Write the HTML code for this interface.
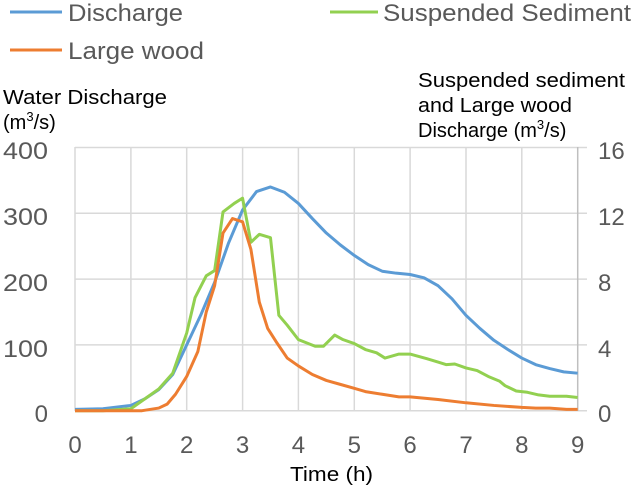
<!DOCTYPE html>
<html><head><meta charset="utf-8"><style>
body{margin:0;background:#fff;}
svg text{font-family:"Liberation Sans","Noto Sans CJK JP",sans-serif;fill:#595959;}
</style></head><body>
<svg width="634" height="485" viewBox="0 0 634 485" xmlns="http://www.w3.org/2000/svg">
<g stroke="#d9d9d9" stroke-width="1.5">
<line x1="75" y1="147.5" x2="587" y2="147.5"/><line x1="75" y1="213.3" x2="587" y2="213.3"/><line x1="75" y1="279.1" x2="587" y2="279.1"/><line x1="75" y1="344.9" x2="587" y2="344.9"/><line x1="75" y1="410.7" x2="587" y2="410.7"/>
<line x1="75" y1="147" x2="75" y2="411"/><line x1="130.9" y1="147" x2="130.9" y2="411"/><line x1="186.7" y1="147" x2="186.7" y2="411"/><line x1="242.6" y1="147" x2="242.6" y2="411"/><line x1="298.4" y1="147" x2="298.4" y2="411"/><line x1="354.3" y1="147" x2="354.3" y2="411"/><line x1="410.1" y1="147" x2="410.1" y2="411"/><line x1="466" y1="147" x2="466" y2="411"/><line x1="521.8" y1="147" x2="521.8" y2="411"/>
</g>
<line x1="577.7" y1="147" x2="577.7" y2="411" stroke="#bfbfbf" stroke-width="1.5"/>
<g transform="translate(75,410.7) scale(55.85,-0.658)" fill="none" stroke-width="3" stroke-linejoin="round">
<polyline vector-effect="non-scaling-stroke" stroke="#5b9bd5" points="0,2 0.5,3 1,8 1.25,18 1.5,32 1.75,55 2,100 2.25,145 2.5,195 2.75,255 3,305 3.25,333 3.5,340 3.75,332 4,315 4.25,292 4.5,270 4.75,252 5,236 5.25,222 5.5,212 5.75,209 6,207 6.25,202 6.5,190 6.75,170 7,145 7.25,125 7.5,107 7.75,93 8,80 8.25,70 8.5,64 8.75,59 9,57"/>
<polyline vector-effect="non-scaling-stroke" stroke="#92d050" points="0,0 0.5,0 1,3 1.25,18 1.5,33 1.75,57 2,118 2.15,172 2.35,205 2.5,213 2.65,302 2.85,315 3,323 3.15,256 3.3,268 3.5,263 3.65,145 3.8,130 4,108 4.3,98 4.45,98 4.65,115 4.8,108 5,102 5.2,93 5.4,88 5.55,80 5.8,86 6,86 6.3,79 6.5,74 6.65,70 6.8,71 7,65 7.2,61 7.4,52 7.6,45 7.7,38 7.9,30 8.1,28 8.3,24 8.5,22 8.8,22 9,20"/>
<polyline vector-effect="non-scaling-stroke" stroke="#ed7d31" points="0,0 1.2,0 1.5,4 1.65,10 1.8,25 2,52 2.2,90 2.35,150 2.5,190 2.65,270 2.82,292 3,287 3.15,245 3.3,165 3.45,125 3.6,105 3.8,80 4,68 4.25,55 4.5,46 4.75,40 5,34 5.2,29 5.5,25 5.8,21 6,21 6.5,17 7,12 7.5,8 8,5 8.25,4 8.5,4 8.8,2 9,2"/>
</g>
<g font-size="24">
<text x="3" y="159" textLength="45" lengthAdjust="spacingAndGlyphs">400</text><text x="3" y="225" textLength="45" lengthAdjust="spacingAndGlyphs">300</text><text x="3" y="291" textLength="45" lengthAdjust="spacingAndGlyphs">200</text><text x="3" y="357" textLength="45" lengthAdjust="spacingAndGlyphs">100</text><text x="48" y="422" text-anchor="end">0</text>
</g>
<g font-size="24" text-anchor="start">
<text x="598" y="159">16</text><text x="598" y="225">12</text><text x="598" y="291">8</text><text x="598" y="357">4</text><text x="598" y="422">0</text>
</g>
<g font-size="24" text-anchor="middle">
<text x="75" y="453">0</text><text x="130.9" y="453">1</text><text x="186.7" y="453">2</text><text x="242.6" y="453">3</text><text x="298.4" y="453">4</text><text x="354.3" y="453">5</text><text x="410.1" y="453">6</text><text x="466" y="453">7</text><text x="521.8" y="453">8</text><text x="577.7" y="453">9</text>
</g>
<text x="290" y="481" font-size="20" style="fill:#000" textLength="83" lengthAdjust="spacingAndGlyphs">Time (h)</text>
<text x="3" y="104" font-size="20" style="fill:#000" textLength="164" lengthAdjust="spacingAndGlyphs">Water Discharge</text>
<text x="3" y="129" font-size="20" style="fill:#000">(m<tspan font-size="13" dy="-8">3</tspan><tspan dy="8">/s)</tspan></text>
<text x="418" y="87" font-size="20" style="fill:#000" textLength="207" lengthAdjust="spacingAndGlyphs">Suspended sediment</text>
<text x="418" y="112" font-size="20" style="fill:#000" textLength="154" lengthAdjust="spacingAndGlyphs">and Large wood</text>
<text x="418" y="137" font-size="20" style="fill:#000">Discharge (m<tspan font-size="13" dy="-8">3</tspan><tspan dy="8">/s)</tspan></text>
<line x1="10" y1="12" x2="62" y2="12" stroke="#5b9bd5" stroke-width="3"/>
<text x="68" y="21" font-size="24" textLength="115" lengthAdjust="spacingAndGlyphs">Discharge</text>
<line x1="330" y1="12" x2="378" y2="12" stroke="#92d050" stroke-width="3"/>
<text x="383" y="21" font-size="24" textLength="248" lengthAdjust="spacingAndGlyphs">Suspended Sediment</text>
<line x1="10" y1="50" x2="62" y2="50" stroke="#ed7d31" stroke-width="3"/>
<text x="68" y="59" font-size="24" textLength="136" lengthAdjust="spacingAndGlyphs">Large wood</text>
</svg>
</body></html>
